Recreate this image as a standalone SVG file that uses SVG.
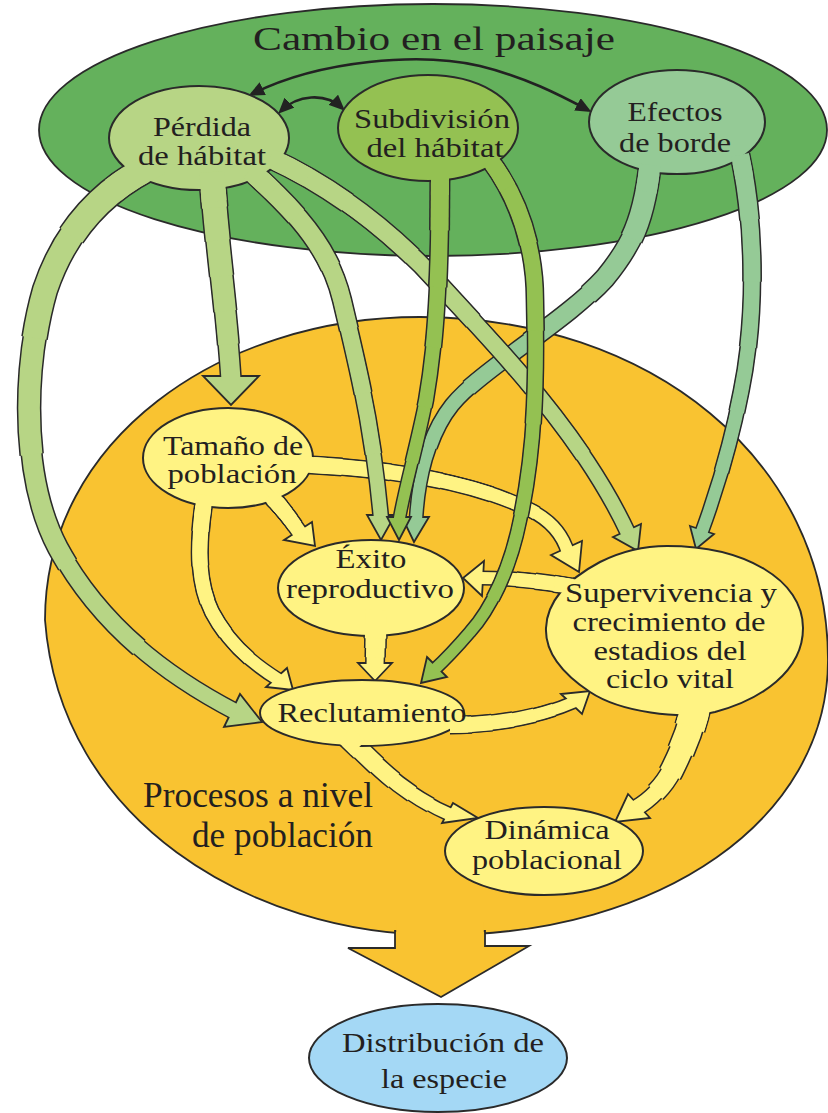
<svg xmlns="http://www.w3.org/2000/svg" width="828" height="1113" viewBox="0 0 828 1113">
<defs>
<style>
text{font-family:"Liberation Serif","Times New Roman",serif;fill:#231f20;text-anchor:middle}
.t27{font-size:27px}
.ln{fill:none;stroke-linecap:butt;stroke-linejoin:round}
.o{stroke:#2a2a2a}
.body{stroke:#2a2a2a;stroke-width:2}
polygon.hd{stroke:#2a2a2a;stroke-width:1.8;stroke-linejoin:miter}
.p .f,.p .n{stroke:#b7d585}
.p .hd,.p .body{fill:#b7d585}
.s .f,.s .n{stroke:#94c152}
.s .hd,.s .body{fill:#94c152}
.e .f,.e .n{stroke:#95ca96}
.e .hd,.e .body{fill:#95ca96}
.y .f,.y .n{stroke:#fff383}
.y .hd,.y .body{fill:#fff383}
.dark{fill:none;stroke:#222;stroke-width:2.6}
.q83{stroke-dasharray:83 200}
.q67{stroke-dasharray:67 200}
.q50{stroke-dasharray:50 200}
.q33{stroke-dasharray:33 200}
.q17{stroke-dasharray:17 200}
</style>
<marker id="ah" viewBox="0 0 16 14" markerWidth="16" markerHeight="14" refX="12" refY="7" orient="auto-start-reverse" markerUnits="userSpaceOnUse">
<path d="M0,0 L16,7 L0,14 z" fill="#222"/>
</marker>
<path id="tP1" pathLength="100" d="M 160 162 C 120 180 70 215 45 290 C 22 370 22 480 58 548 C 100 625 165 675 236 712"/>
<path id="tP2" pathLength="100" d="M 212 172 C 216 240 226 300 231 380"/>
<path id="tP3" pathLength="100" d="M 250 170 C 300 215 330 250 342 300 C 356 360 372 420 381 519"/>
<path id="tP4" pathLength="100" d="M 270 158 C 340 190 400 240 440 285 C 490 340 580 430 628 533"/>
<path id="tS1" pathLength="100" d="M 440 170 C 440 260 438 330 426 400 C 416 450 404 490 399 521"/>
<path id="tS2" pathLength="100" d="M 490 160 C 520 200 535 250 535 300 C 537 380 535 450 520 520 C 510 570 490 610 470 632 C 458 646 447 658 434 670"/>
<path id="tE1" pathLength="100" d="M 650 165 C 644 220 632 245 605 278 C 565 322 480 370 452 405 C 428 435 418 480 416 521"/>
<path id="tE2" pathLength="100" d="M 740 155 C 754 220 756 300 745 370 C 735 430 718 488 701 534"/>
<path id="tY1" pathLength="100" d="M 290 464 C 400 468 480 485 530 510 C 550 520 563 535 568 553"/>
<path id="tY2" pathLength="100" d="M 270 495 C 282 508 290 518 300 533"/>
<path id="tY3" pathLength="100" d="M 205 495 C 198 540 196 580 212 612 C 228 642 250 662 279 680"/>
<path id="tY4" pathLength="100" d="M 376 610 L 375 667"/>
<path id="tY5" pathLength="100" d="M 590 590 C 550 582 515 578 480 578"/>
<path id="tY6" pathLength="100" d="M 700 680 C 696 720 682 750 672 770 C 664 786 650 800 636 808"/>
<path id="tY7" pathLength="100" d="M 450 725 C 495 725 540 717 574 702"/>
<path id="tY8" pathLength="100" d="M 345 735 C 372 760 398 792 451 815"/>
</defs>

<g id="cambio-paisaje">
<ellipse cx="433" cy="130" rx="394" ry="126" fill="#64b15c" stroke="#2a2a2a" stroke-width="1.8"/>
<text x="434" y="50" font-size="34" textLength="362" lengthAdjust="spacingAndGlyphs">Cambio en el paisaje</text>
</g>

<g id="procesos-poblacion">
<path d="M 420 317 C 650 317 828 460 828 660 C 828 820 660 935 440 935 C 250 935 60 820 45 620 C 45 440 220 317 420 317 Z" fill="#f9c331" stroke="#2a2a2a" stroke-width="1.8"/>
<polygon points="395,931 395,948 348,948 441,997 529,946 485,946 485,931" fill="#f9c331" stroke="#2a2a2a" stroke-width="1.8" stroke-linejoin="miter"/>
<rect x="396.2" y="922" width="87.6" height="23" fill="#f9c331"/>
<text x="143" y="807" font-size="35" style="text-anchor:start" textLength="230" lengthAdjust="spacingAndGlyphs">Procesos a nivel</text>
<text x="192" y="847" font-size="35" style="text-anchor:start" textLength="181" lengthAdjust="spacingAndGlyphs">de población</text>
</g>

<g id="connectors">
<g class="y">
<g id="c-tamano-superv">
<use href="#tY1" class="ln o" stroke-width="15"/><use href="#tY1" class="ln o q83" stroke-width="15.8"/><use href="#tY1" class="ln o q67" stroke-width="16.6"/><use href="#tY1" class="ln o q50" stroke-width="17.4"/><use href="#tY1" class="ln o q33" stroke-width="18.2"/><use href="#tY1" class="ln o q17" stroke-width="19"/>
<polygon class="hd" points="551,555 582,541 579,572"/>
<use href="#tY1" class="ln f" stroke-width="12"/><use href="#tY1" class="ln f q83" stroke-width="12.8"/><use href="#tY1" class="ln f q67" stroke-width="13.6"/><use href="#tY1" class="ln f q50" stroke-width="14.4"/><use href="#tY1" class="ln f q33" stroke-width="15.2"/><use href="#tY1" class="ln f q17" stroke-width="16"/>
</g>
<g id="c-tamano-exito">
<use href="#tY2" class="ln o" stroke-width="17"/><use href="#tY2" class="ln o q83" stroke-width="17.4"/><use href="#tY2" class="ln o q67" stroke-width="17.8"/><use href="#tY2" class="ln o q50" stroke-width="18.2"/><use href="#tY2" class="ln o q33" stroke-width="18.6"/><use href="#tY2" class="ln o q17" stroke-width="19"/>
<polygon class="hd" points="284,540 312,522 315,546"/>
<use href="#tY2" class="ln f" stroke-width="14"/><use href="#tY2" class="ln f q83" stroke-width="14.4"/><use href="#tY2" class="ln f q67" stroke-width="14.8"/><use href="#tY2" class="ln f q50" stroke-width="15.2"/><use href="#tY2" class="ln f q33" stroke-width="15.6"/><use href="#tY2" class="ln f q17" stroke-width="16"/>
</g>
<g id="c-tamano-recl">
<use href="#tY3" class="ln o" stroke-width="15"/><use href="#tY3" class="ln o q83" stroke-width="15.8"/><use href="#tY3" class="ln o q67" stroke-width="16.6"/><use href="#tY3" class="ln o q50" stroke-width="17.4"/><use href="#tY3" class="ln o q33" stroke-width="18.2"/><use href="#tY3" class="ln o q17" stroke-width="19"/>
<polygon class="hd" points="287,668 266,687 293,690"/>
<use href="#tY3" class="ln f" stroke-width="12"/><use href="#tY3" class="ln f q83" stroke-width="12.8"/><use href="#tY3" class="ln f q67" stroke-width="13.6"/><use href="#tY3" class="ln f q50" stroke-width="14.4"/><use href="#tY3" class="ln f q33" stroke-width="15.2"/><use href="#tY3" class="ln f q17" stroke-width="16"/>
</g>
<g id="c-exito-recl">
<use href="#tY4" class="ln o" stroke-width="20"/><use href="#tY4" class="ln o q83" stroke-width="21.4"/><use href="#tY4" class="ln o q67" stroke-width="22.8"/><use href="#tY4" class="ln o q50" stroke-width="24.2"/><use href="#tY4" class="ln o q33" stroke-width="25.6"/><use href="#tY4" class="ln o q17" stroke-width="27"/>
<polygon class="hd" points="358,663 392,663 375,681"/>
<use href="#tY4" class="ln f" stroke-width="17"/><use href="#tY4" class="ln f q83" stroke-width="18.4"/><use href="#tY4" class="ln f q67" stroke-width="19.8"/><use href="#tY4" class="ln f q50" stroke-width="21.2"/><use href="#tY4" class="ln f q33" stroke-width="22.6"/><use href="#tY4" class="ln f q17" stroke-width="24"/>
</g>
<g id="c-superv-exito">
<use href="#tY5" class="ln o" stroke-width="15"/><use href="#tY5" class="ln o q83" stroke-width="15.8"/><use href="#tY5" class="ln o q67" stroke-width="16.6"/><use href="#tY5" class="ln o q50" stroke-width="17.4"/><use href="#tY5" class="ln o q33" stroke-width="18.2"/><use href="#tY5" class="ln o q17" stroke-width="19"/>
<polygon class="hd" points="484,561 482,596 463,578"/>
<use href="#tY5" class="ln f" stroke-width="12"/><use href="#tY5" class="ln f q83" stroke-width="12.8"/><use href="#tY5" class="ln f q67" stroke-width="13.6"/><use href="#tY5" class="ln f q50" stroke-width="14.4"/><use href="#tY5" class="ln f q33" stroke-width="15.2"/><use href="#tY5" class="ln f q17" stroke-width="16"/>
</g>
<g id="c-superv-dinamica">
<use href="#tY6" class="ln o" stroke-width="18"/><use href="#tY6" class="ln o q83" stroke-width="21.6"/><use href="#tY6" class="ln o q67" stroke-width="25.2"/><use href="#tY6" class="ln o q50" stroke-width="28.8"/><use href="#tY6" class="ln o q33" stroke-width="32.4"/><use href="#tY6" class="ln o q17" stroke-width="36"/>
<polygon class="hd" points="628,794 650,818 615,822"/>
<use href="#tY6" class="ln f" stroke-width="15"/><use href="#tY6" class="ln f q83" stroke-width="18.6"/><use href="#tY6" class="ln f q67" stroke-width="22.2"/><use href="#tY6" class="ln f q50" stroke-width="25.8"/><use href="#tY6" class="ln f q33" stroke-width="29.4"/><use href="#tY6" class="ln f q17" stroke-width="33"/>
</g>
<g id="c-recl-superv">
<use href="#tY7" class="ln o" stroke-width="14"/><use href="#tY7" class="ln o q83" stroke-width="15"/><use href="#tY7" class="ln o q67" stroke-width="16"/><use href="#tY7" class="ln o q50" stroke-width="17"/><use href="#tY7" class="ln o q33" stroke-width="18"/><use href="#tY7" class="ln o q17" stroke-width="19"/>
<polygon class="hd" points="561,694 582,714 590,691"/>
<use href="#tY7" class="ln f" stroke-width="11"/><use href="#tY7" class="ln f q83" stroke-width="12"/><use href="#tY7" class="ln f q67" stroke-width="13"/><use href="#tY7" class="ln f q50" stroke-width="14"/><use href="#tY7" class="ln f q33" stroke-width="15"/><use href="#tY7" class="ln f q17" stroke-width="16"/>
</g>
<g id="c-recl-dinamica">
<use href="#tY8" class="ln o" stroke-width="15"/><use href="#tY8" class="ln o q83" stroke-width="16.6"/><use href="#tY8" class="ln o q67" stroke-width="18.2"/><use href="#tY8" class="ln o q50" stroke-width="19.8"/><use href="#tY8" class="ln o q33" stroke-width="21.4"/><use href="#tY8" class="ln o q17" stroke-width="23"/>
<polygon class="hd" points="453,803 442,823 478,818"/>
<use href="#tY8" class="ln f" stroke-width="12"/><use href="#tY8" class="ln f q83" stroke-width="13.6"/><use href="#tY8" class="ln f q67" stroke-width="15.2"/><use href="#tY8" class="ln f q50" stroke-width="16.8"/><use href="#tY8" class="ln f q33" stroke-width="18.4"/><use href="#tY8" class="ln f q17" stroke-width="20"/>
</g>
</g>
<g class="e">
<g id="c-efectos-exito">
<use href="#tE1" class="ln o" stroke-width="15"/><use href="#tE1" class="ln o q83" stroke-width="16.8"/><use href="#tE1" class="ln o q67" stroke-width="18.6"/><use href="#tE1" class="ln o q50" stroke-width="20.4"/><use href="#tE1" class="ln o q33" stroke-width="22.2"/><use href="#tE1" class="ln o q17" stroke-width="24"/>
<polygon class="hd" points="402,517 429,517 414,542"/>
<use href="#tE1" class="ln f" stroke-width="12"/><use href="#tE1" class="ln f q83" stroke-width="13.8"/><use href="#tE1" class="ln f q67" stroke-width="15.6"/><use href="#tE1" class="ln f q50" stroke-width="17.4"/><use href="#tE1" class="ln f q33" stroke-width="19.2"/><use href="#tE1" class="ln f q17" stroke-width="21"/>
</g>
<g id="c-efectos-superv">
<use href="#tE2" class="ln o" stroke-width="15"/><use href="#tE2" class="ln o q83" stroke-width="16.2"/><use href="#tE2" class="ln o q67" stroke-width="17.4"/><use href="#tE2" class="ln o q50" stroke-width="18.6"/><use href="#tE2" class="ln o q33" stroke-width="19.8"/><use href="#tE2" class="ln o q17" stroke-width="21"/>
<polygon class="hd" points="690,526 714,534 696,549"/>
<use href="#tE2" class="ln f" stroke-width="12"/><use href="#tE2" class="ln f q83" stroke-width="13.2"/><use href="#tE2" class="ln f q67" stroke-width="14.4"/><use href="#tE2" class="ln f q50" stroke-width="15.6"/><use href="#tE2" class="ln f q33" stroke-width="16.8"/><use href="#tE2" class="ln f q17" stroke-width="18"/>
</g>
</g>
<g class="p">
<g id="c-perdida-recl">
<use href="#tP1" class="ln o" stroke-width="18"/><use href="#tP1" class="ln o q83" stroke-width="20.2"/><use href="#tP1" class="ln o q67" stroke-width="22.4"/><use href="#tP1" class="ln o q50" stroke-width="24.6"/><use href="#tP1" class="ln o q33" stroke-width="26.8"/><use href="#tP1" class="ln o q17" stroke-width="29"/>
<polygon class="hd" points="240,694 224,727 262,722"/>
<use href="#tP1" class="ln f" stroke-width="15"/><use href="#tP1" class="ln f q83" stroke-width="17.2"/><use href="#tP1" class="ln f q67" stroke-width="19.4"/><use href="#tP1" class="ln f q50" stroke-width="21.6"/><use href="#tP1" class="ln f q33" stroke-width="23.8"/><use href="#tP1" class="ln f q17" stroke-width="26"/>
</g>
<g id="c-perdida-tamano">
<use href="#tP2" class="ln o" stroke-width="22"/><use href="#tP2" class="ln o q83" stroke-width="23.2"/><use href="#tP2" class="ln o q67" stroke-width="24.4"/><use href="#tP2" class="ln o q50" stroke-width="25.6"/><use href="#tP2" class="ln o q33" stroke-width="26.8"/><use href="#tP2" class="ln o q17" stroke-width="28"/>
<polygon class="hd" points="203,376 259,376 231,405"/>
<use href="#tP2" class="ln f" stroke-width="19"/><use href="#tP2" class="ln f q83" stroke-width="20.2"/><use href="#tP2" class="ln f q67" stroke-width="21.4"/><use href="#tP2" class="ln f q50" stroke-width="22.6"/><use href="#tP2" class="ln f q33" stroke-width="23.8"/><use href="#tP2" class="ln f q17" stroke-width="25"/>
</g>
<g id="c-perdida-exito">
<use href="#tP3" class="ln o" stroke-width="17"/><use href="#tP3" class="ln o q83" stroke-width="18.2"/><use href="#tP3" class="ln o q67" stroke-width="19.4"/><use href="#tP3" class="ln o q50" stroke-width="20.6"/><use href="#tP3" class="ln o q33" stroke-width="21.8"/><use href="#tP3" class="ln o q17" stroke-width="23"/>
<polygon class="hd" points="367,515 395,515 381,540"/>
<use href="#tP3" class="ln f" stroke-width="14"/><use href="#tP3" class="ln f q83" stroke-width="15.2"/><use href="#tP3" class="ln f q67" stroke-width="16.4"/><use href="#tP3" class="ln f q50" stroke-width="17.6"/><use href="#tP3" class="ln f q33" stroke-width="18.8"/><use href="#tP3" class="ln f q17" stroke-width="20"/>
</g>
<g id="c-perdida-superv">
<use href="#tP4" class="ln o" stroke-width="17"/><use href="#tP4" class="ln o q83" stroke-width="18"/><use href="#tP4" class="ln o q67" stroke-width="19"/><use href="#tP4" class="ln o q50" stroke-width="20"/><use href="#tP4" class="ln o q33" stroke-width="21"/><use href="#tP4" class="ln o q17" stroke-width="22"/>
<polygon class="hd" points="613,537 641,524 638,551"/>
<use href="#tP4" class="ln f" stroke-width="14"/><use href="#tP4" class="ln f q83" stroke-width="15"/><use href="#tP4" class="ln f q67" stroke-width="16"/><use href="#tP4" class="ln f q50" stroke-width="17"/><use href="#tP4" class="ln f q33" stroke-width="18"/><use href="#tP4" class="ln f q17" stroke-width="19"/>
</g>
</g>
<g class="s">
<g id="c-subdiv-exito">
<use href="#tS1" class="ln o" stroke-width="14"/><use href="#tS1" class="ln o q83" stroke-width="15.4"/><use href="#tS1" class="ln o q67" stroke-width="16.8"/><use href="#tS1" class="ln o q50" stroke-width="18.2"/><use href="#tS1" class="ln o q33" stroke-width="19.6"/><use href="#tS1" class="ln o q17" stroke-width="21"/>
<polygon class="hd" points="387,517 411,517 399,540"/>
<use href="#tS1" class="ln f" stroke-width="11"/><use href="#tS1" class="ln f q83" stroke-width="12.4"/><use href="#tS1" class="ln f q67" stroke-width="13.8"/><use href="#tS1" class="ln f q50" stroke-width="15.2"/><use href="#tS1" class="ln f q33" stroke-width="16.6"/><use href="#tS1" class="ln f q17" stroke-width="18"/>
</g>
<g id="c-subdiv-recl">
<use href="#tS2" class="ln o" stroke-width="14"/><use href="#tS2" class="ln o q83" stroke-width="15.2"/><use href="#tS2" class="ln o q67" stroke-width="16.4"/><use href="#tS2" class="ln o q50" stroke-width="17.6"/><use href="#tS2" class="ln o q33" stroke-width="18.8"/><use href="#tS2" class="ln o q17" stroke-width="20"/>
<polygon class="hd" points="427,657 447,677 421,683"/>
<use href="#tS2" class="ln f" stroke-width="11"/><use href="#tS2" class="ln f q83" stroke-width="12.2"/><use href="#tS2" class="ln f q67" stroke-width="13.4"/><use href="#tS2" class="ln f q50" stroke-width="14.6"/><use href="#tS2" class="ln f q33" stroke-width="15.8"/><use href="#tS2" class="ln f q17" stroke-width="17"/>
</g>
</g>
<path class="dark" d="M 252 94 C 320 60 420 52 480 66 C 525 77 560 95 588 110" marker-start="url(#ah)" marker-end="url(#ah)"/>
<path class="dark" d="M 281 111 C 297 95 325 92 342 108" marker-start="url(#ah)" marker-end="url(#ah)"/>
</g>

<g id="node-perdida" class="p">
<ellipse class="body" cx="199" cy="138" rx="90" ry="52"/>
<use href="#tP1" class="ln n" stroke-width="26" stroke-dasharray="8 200"/>
<use href="#tP2" class="ln n" stroke-width="25" stroke-dasharray="14 200"/>
<use href="#tP3" class="ln n" stroke-width="20" stroke-dasharray="8 200"/>
<use href="#tP4" class="ln n" stroke-width="19" stroke-dasharray="8 200"/>
<text class="t27" x="202" y="136" textLength="98" lengthAdjust="spacingAndGlyphs">Pérdida</text>
<text class="t27" x="202" y="165" textLength="128" lengthAdjust="spacingAndGlyphs">de hábitat</text>
</g>

<g id="node-subdivision" class="s">
<ellipse class="body" cx="428" cy="128" rx="90" ry="53"/>
<use href="#tS1" class="ln n" stroke-width="18" stroke-dasharray="7 200"/>
<use href="#tS2" class="ln n" stroke-width="17" stroke-dasharray="6 200"/>
<text class="t27" x="432" y="128" textLength="156" lengthAdjust="spacingAndGlyphs">Subdivisión</text>
<text class="t27" x="435" y="157" textLength="137" lengthAdjust="spacingAndGlyphs">del hábitat</text>
</g>

<g id="node-efectos" class="e">
<ellipse class="body" cx="677" cy="122" rx="88" ry="52"/>
<use href="#tE1" class="ln n" stroke-width="21" stroke-dasharray="6 200"/>
<use href="#tE2" class="ln n" stroke-width="18" stroke-dasharray="6 200"/>
<text class="t27" x="675" y="121" textLength="95" lengthAdjust="spacingAndGlyphs">Efectos</text>
<text class="t27" x="675" y="152" textLength="112" lengthAdjust="spacingAndGlyphs">de borde</text>
</g>

<g id="node-tamano" class="y">
<ellipse class="body" cx="228" cy="458" rx="85" ry="50"/>
<use href="#tY1" class="ln n" stroke-width="16" stroke-dasharray="12 200"/>
<use href="#tY2" class="ln n" stroke-width="15.2" stroke-dasharray="45 200"/>
<use href="#tY3" class="ln n" stroke-width="16" stroke-dasharray="10 200"/>
<text class="t27" x="233" y="455" textLength="140" lengthAdjust="spacingAndGlyphs">Tamaño de</text>
<text class="t27" x="232" y="483" textLength="129" lengthAdjust="spacingAndGlyphs">población</text>
</g>

<g id="node-exito" class="y">
<ellipse class="body" cx="371" cy="588" rx="93" ry="48"/>
<use href="#tY4" class="ln n" stroke-width="21.2" stroke-dasharray="49 200"/>
<text class="t27" x="371" y="568" textLength="71" lengthAdjust="spacingAndGlyphs">Éxito</text>
<text class="t27" x="370" y="598" textLength="168" lengthAdjust="spacingAndGlyphs">reproductivo</text>
</g>

<g id="node-supervivencia" class="y">
<path class="body" d="M 667 546 C 745 546 803 580 803 628 C 803 672 760 700 715 712 C 680 720 620 712 590 692 C 560 672 545 650 546 628 C 547 600 570 578 600 562 C 620 552 645 546 667 546 Z"/>
<use href="#tY5" class="ln n" stroke-width="15.2" stroke-dasharray="32 200"/>
<use href="#tY6" class="ln n" stroke-width="29.4" stroke-dasharray="32 200"/>
<text class="t27" x="671" y="602" textLength="212" lengthAdjust="spacingAndGlyphs">Supervivencia y</text>
<text class="t27" x="669" y="631" textLength="193" lengthAdjust="spacingAndGlyphs">crecimiento de</text>
<text class="t27" x="670" y="660" textLength="153" lengthAdjust="spacingAndGlyphs">estadios del</text>
<text class="t27" x="670" y="688" textLength="128" lengthAdjust="spacingAndGlyphs">ciclo vital</text>
</g>

<g id="node-reclutamiento" class="y">
<ellipse class="body" cx="362" cy="713" rx="102" ry="33"/>
<use href="#tY7" class="ln n" stroke-width="16" stroke-dasharray="14 200"/>
<use href="#tY8" class="ln n" stroke-width="20" stroke-dasharray="14 200"/>
<text class="t27" x="372" y="722" textLength="189" lengthAdjust="spacingAndGlyphs">Reclutamiento</text>
</g>

<g id="node-dinamica" class="y">
<ellipse class="body" cx="544" cy="851" rx="99" ry="44"/>
<text class="t27" x="547" y="839" textLength="125" lengthAdjust="spacingAndGlyphs">Dinámica</text>
<text class="t27" x="547" y="869" textLength="150" lengthAdjust="spacingAndGlyphs">poblacional</text>
</g>

<g id="node-distribucion">
<ellipse cx="438" cy="1058" rx="129" ry="54" fill="#a4d8f5" stroke="#2a2a2a" stroke-width="2"/>
<text x="443" y="1052" font-size="28" textLength="202" lengthAdjust="spacingAndGlyphs">Distribución de</text>
<text x="444" y="1088" font-size="28" textLength="126" lengthAdjust="spacingAndGlyphs">la especie</text>
</g>
</svg>
